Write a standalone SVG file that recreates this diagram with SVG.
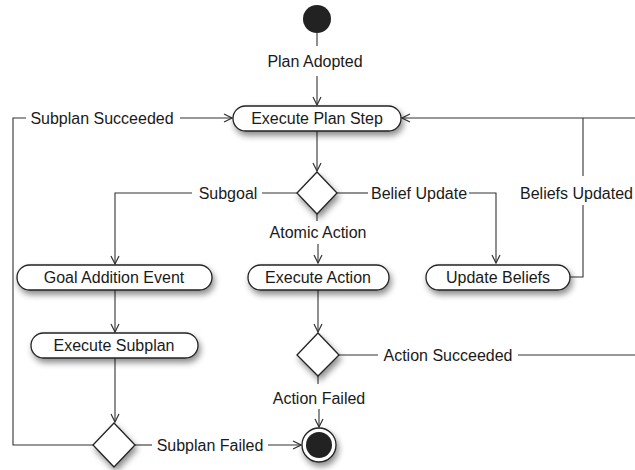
<svg xmlns="http://www.w3.org/2000/svg" width="635" height="470" viewBox="0 0 635 470">
<style>
.node{fill:#fff;stroke:#222;stroke-width:1.3;filter:url(#sh)}
.t{font-family:"Liberation Sans",Arial,sans-serif;font-size:16px;fill:#1a1a1a;text-anchor:middle}
.tl{font-family:"Liberation Sans",Arial,sans-serif;font-size:16px;fill:#1a1a1a;text-anchor:start}
.c{fill:none;stroke:#333;stroke-width:1.1}
.a{marker-end:url(#arr)}
</style>
<defs>
<filter id="sh" x="-20%" y="-40%" width="150%" height="200%">
<feDropShadow dx="2" dy="4" stdDeviation="3" flood-color="#000" flood-opacity="0.45"/>
</filter>
<marker id="arr" viewBox="0 0 10 10" refX="9" refY="5" markerWidth="10" markerHeight="10" markerUnits="userSpaceOnUse" orient="auto">
<path d="M1,1 L9,5 L1,9" fill="none" stroke="#333" stroke-width="1.2"/>
</marker>
</defs>
<rect width="635" height="470" fill="#fff"/>
<g id="connectors">
<line class="c" x1="317" y1="33" x2="317" y2="46"/>
<line class="c a" x1="317" y1="76" x2="317" y2="105"/>
<line class="c a" x1="317" y1="131" x2="317" y2="171"/>
<polyline class="c a" points="192,193 115,193 115,264"/>
<line class="c" x1="297" y1="193" x2="262" y2="193"/>
<line class="c" x1="337" y1="193" x2="368" y2="193"/>
<polyline class="c a" points="469,193 496,193 496,263"/>
<line class="c" x1="317" y1="214" x2="317" y2="221"/>
<line class="c a" x1="318" y1="244" x2="318" y2="263"/>
<polyline class="c" points="570,277 583,277 583,205"/>
<line class="c" x1="583" y1="176" x2="583" y2="118"/>
<line class="c a" x1="635" y1="118" x2="402" y2="118"/>
<line class="c a" x1="115" y1="290" x2="115" y2="332"/>
<line class="c a" x1="318" y1="290" x2="318" y2="332"/>
<line class="c a" x1="115" y1="358" x2="115" y2="422"/>
<line class="c" x1="339" y1="355" x2="378" y2="355"/>
<line class="c" x1="518" y1="355" x2="635" y2="355"/>
<line class="c" x1="318" y1="376" x2="318" y2="384"/>
<line class="c a" x1="319" y1="409" x2="319" y2="427"/>
<line class="c" x1="135" y1="445" x2="152" y2="445"/>
<line class="c a" x1="268" y1="445" x2="301" y2="445"/>
<polyline class="c" points="93,445 13,445 13,118 26,118"/>
<line class="c a" x1="180" y1="118" x2="232" y2="118"/>
</g>
<g id="labels">
<text class="t" x="315" y="67">Plan Adopted</text>
<text class="t" x="102" y="124">Subplan Succeeded</text>
<text class="t" x="228" y="199">Subgoal</text>
<text class="t" x="419" y="199">Belief Update</text>
<text class="tl" x="520" y="199">Beliefs Updated</text>
<text class="t" x="318" y="238">Atomic Action</text>
<text class="t" x="448" y="361">Action Succeeded</text>
<text class="t" x="319" y="404">Action Failed</text>
<text class="t" x="210" y="451">Subplan Failed</text>
</g>
<g id="start"><ellipse cx="317" cy="19" rx="14" ry="14" fill="#222"/></g>
<g id="execute-plan-step"><rect class="node" x="233" y="106" width="168" height="25" rx="12.5"/><text class="t" x="317" y="124">Execute Plan Step</text></g>
<g id="decision-step"><polygon class="node" points="317,172 337,193 317,214 297,193"/></g>
<g id="goal-addition-event"><rect class="node" x="17" y="265" width="195" height="25" rx="12.5"/><text class="t" x="114" y="283">Goal Addition Event</text></g>
<g id="execute-action"><rect class="node" x="248" y="265" width="141" height="25" rx="12.5"/><text class="t" x="318" y="283">Execute Action</text></g>
<g id="update-beliefs"><rect class="node" x="426" y="265" width="144" height="25" rx="12.5"/><text class="t" x="498" y="283">Update Beliefs</text></g>
<g id="execute-subplan"><rect class="node" x="31" y="333" width="167" height="25" rx="12.5"/><text class="t" x="114" y="351">Execute Subplan</text></g>
<g id="decision-action"><polygon class="node" points="318,333 339,355 318,376 297,355"/></g>
<g id="decision-subplan"><polygon class="node" points="114,423 135,445 114,467 93,445"/></g>
<g id="end"><circle class="node" cx="319" cy="445" r="17"/><circle cx="319" cy="445" r="13" fill="#222"/></g>
</svg>
